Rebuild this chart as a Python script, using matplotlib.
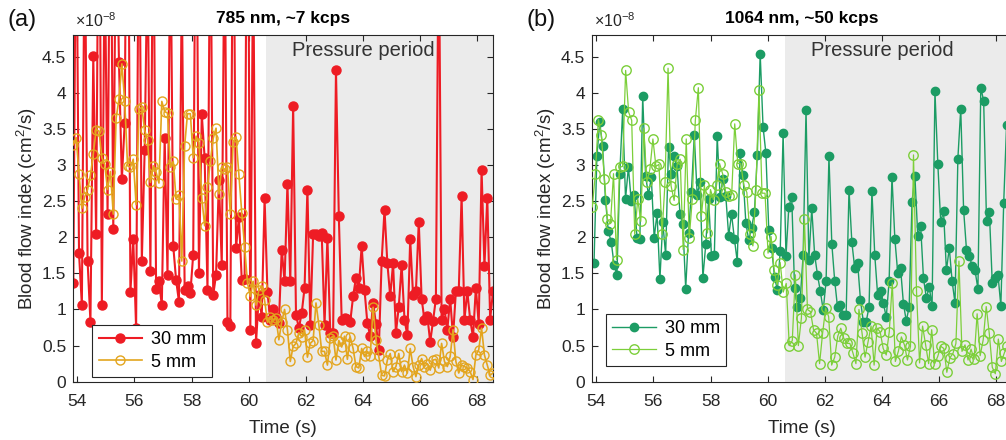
import numpy as np
import matplotlib
matplotlib.use("Agg")
import matplotlib.pyplot as plt
from matplotlib.ticker import FuncFormatter

plt.rcParams['font.family'] = ['Liberation Sans', 'DejaVu Sans']
plt.rcParams['mathtext.fontset'] = 'custom'
plt.rcParams['mathtext.rm'] = 'Liberation Sans'
plt.rcParams['mathtext.it'] = 'Liberation Sans:italic'

# blood flow index, in units of 1e-8 cm^2/s (values above 4.8 run off the axes)
# (a) 785 nm, 30 mm
a30_t = (53.86, 68.56)
a30 = [1.37, 7.0, 1.78, 1.06, 6.5, 1.67, 0.83, 4.51, 2.04, 8.0,
       1.06, 6.0, 2.32, 7.5, 2.11, 6.8, 4.42, 2.80, 3.58, 9.0,
       1.24, 1.97, 0.74, 7.2, 1.67, 3.21, 6.0, 1.53, 7.0, 1.28,
       1.39, 1.06, 3.38, 1.48, 6.5, 1.88, 1.41, 1.11, 5.5, 1.27,
       1.32, 1.23, 1.76, 8.0, 1.50, 3.70, 3.10, 1.27, 7.0, 1.20,
       1.48, 2.79, 1.62, 6.5, 0.82, 0.77, 7.5, 1.85, 2.28, 1.41,
       1.42, 8.5, 0.72, 6.0, 0.54, 1.20, 0.90, 2.54,
       1.24, 0.86, 1.00, 0.90, 0.81, 1.83, 1.39, 2.74, 1.39, 3.82,
       0.93, 0.74, 0.95, 1.30, 2.66, 0.79, 2.04, 2.04, 2.02, 2.06,
       0.79, 1.99, 0.68, 0.67, 4.31, 2.29, 0.86, 0.88, 0.87, 0.83,
       1.18, 1.44, 1.30, 1.88, 1.27, 0.81, 0.63, 1.09, 0.80, 0.44,
       1.67, 2.38, 1.64, 1.18, 1.64, 0.68, 1.04, 1.62, 0.86, 0.64,
       1.97, 1.20, 1.25, 2.21, 1.15, 0.85, 0.91, 0.55, 0.84, 1.15,
       6.5, 0.86, 1.00, 0.72, 1.15, 0.62, 1.25, 1.25, 2.57, 0.86,
       1.25, 0.86, 0.62, 1.30, 0.80, 2.93, 1.60, 2.55, 0.86, 1.25]

# (a) 785 nm, 5 mm
a5_t = (53.86, 68.56)
a5 = [3.28, 3.38, 2.88, 2.40, 2.56, 2.66, 2.86, 3.15, 3.49, 3.47,
      3.10, 3.01, 2.66, 2.91, 2.32, 3.65, 3.91, 4.40, 3.89, 2.99,
      2.97, 3.08, 2.45, 3.77, 3.80, 3.48, 3.35, 2.76, 2.99, 2.90,
      2.75, 3.88, 3.74, 3.72, 2.97, 3.05, 2.53, 2.59,
      1.67, 3.27, 3.71, 3.71, 3.10, 3.40, 3.31, 2.54, 2.16, 2.70,
      3.05, 3.37, 3.51, 2.60, 2.97, 2.94, 2.97, 2.32, 3.32, 3.39,
      2.87, 2.34, 1.87, 1.37, 1.18, 1.39, 1.06, 1.27, 1.33, 1.13,
      0.82, 0.90, 0.86, 0.88, 0.58, 0.83, 1.00, 0.72, 0.28, 0.49,
      0.53, 0.68, 0.62, 0.72, 0.34, 0.53, 0.57, 1.09, 0.79, 0.42,
      0.42, 0.23, 0.60, 0.63, 0.30, 0.57, 0.48, 0.63, 0.31, 0.62,
      0.46, 0.21, 0.19, 0.46, 0.35, 0.42, 0.36, 1.03, 0.58, 0.35,
      0.09, 0.08, 0.30, 0.39, 0.14, 0.21, 0.39, 0.14, 0.23, 0.12,
      0.46, 0.21, 0.07, 0.23, 0.32, 0.21, 0.25, 0.16, 0.30, 0.31,
      0.19, 0.53, 0.28, 0.21, 0.35, 0.72, 0.28, 0.12, 0.23, 0.21,
      0.19, 0.14, 0.03, 0.37, 0.44, 0.74, 0.37, 0.23, 0.09, 0.12]

# (b) 1064 nm, 30 mm
b30_t = (53.92, 68.37)
b30 = [1.64, 3.12, 3.59, 3.26, 2.52, 2.08, 1.94, 1.62, 1.48, 2.88,
       3.77, 2.53, 2.97, 2.50, 2.59, 1.99, 1.98, 3.95, 2.85, 2.59,
       2.83, 1.99, 2.33, 1.42, 2.21, 1.75, 3.25, 2.87, 3.12, 2.98,
       2.32, 2.19, 1.29, 2.06, 2.63, 3.41, 2.59, 2.76, 1.44, 1.90,
       2.53, 1.74, 1.76, 3.40, 2.56, 2.81, 2.57, 2.02, 2.32, 1.98,
       1.66, 3.16, 2.86, 2.20, 1.96, 2.13, 2.35, 3.14, 4.54, 3.53,
       3.16, 2.10, 1.85, 1.45, 1.27, 1.81, 3.45, 1.74, 2.42, 2.56,
       1.30, 1.03, 1.16, 1.75, 3.76, 1.69, 2.40, 1.76, 1.48, 1.25,
       0.99, 1.39, 3.12, 1.91, 1.40, 1.03, 1.06, 0.93, 0.93, 2.66,
       1.93, 1.57, 1.65, 1.13, 0.83, 0.83, 1.04, 2.64, 1.75, 1.20,
       1.25, 1.09, 0.89, 1.39, 2.84, 1.98, 1.51, 1.57, 1.08, 0.84,
       1.04, 2.49, 2.85, 2.02, 2.16, 1.43, 1.16, 1.31, 1.05, 4.02,
       3.02, 2.21, 2.36, 1.54, 1.85, 1.39, 1.09, 3.09, 3.78, 2.38,
       1.83, 1.74, 1.60, 1.54, 1.28, 4.07, 3.89, 2.22, 2.35, 1.37,
       1.43, 1.48, 1.05, 2.48, 3.55]

# (b) 1064 nm, 5 mm
b5_t = (53.86, 68.40)
b5 = [2.42, 2.88, 3.63, 3.41, 2.80, 2.25, 2.19, 2.88, 1.69, 2.97,
      2.98, 4.31, 3.73, 3.62, 2.04, 2.53, 2.22, 3.51, 2.76, 2.94,
      3.36, 2.98, 3.01, 2.04, 2.76, 4.34, 2.71, 2.51, 3.01, 3.08,
      1.83, 3.36, 1.99, 2.53, 3.62, 4.07, 2.30, 2.72, 2.06, 2.66,
      2.52, 2.72, 3.02, 2.88, 2.63, 2.57, 2.59, 3.57, 3.02, 3.02,
      2.72, 2.62, 2.05, 1.88, 2.66, 4.04, 2.61, 2.61, 1.78, 2.01,
      1.55, 1.34, 1.65, 1.24, 1.36, 0.50, 0.57, 1.48, 0.50, 0.88,
      2.25, 1.00, 0.97, 0.72, 0.67, 0.25, 0.67, 1.02, 0.90, 0.23,
      0.34, 0.63, 0.74, 0.60, 0.53, 0.53, 0.40, 0.25, 1.00, 0.68,
      0.34, 0.55, 0.77, 0.23, 0.74, 0.69, 0.46, 0.37, 0.69, 1.37,
      0.28, 0.42, 0.62, 0.51, 0.30, 0.49, 3.14, 1.25, 0.26, 0.77,
      0.51, 0.25, 0.72, 0.25, 0.35, 0.49, 0.46, 0.13, 0.33, 0.39,
      0.53, 1.67, 0.42, 0.51, 0.30, 0.45, 0.31, 0.94, 0.36, 0.58,
      1.04, 0.67, 0.20, 0.11, 0.59, 0.28, 0.40, 0.50]

pressure_start = 60.62
xlim = (53.86, 68.56)
ylim = (0, 4.8)
xticks = [54, 56, 58, 60, 62, 64, 66, 68]
yticks = [0, 0.5, 1, 1.5, 2, 2.5, 3, 3.5, 4, 4.5]

panels = [
    dict(tag='(a)', title='785 nm, ~7 kcps', left=73.3,
         deep=(a30, a30_t), shallow=(a5, a5_t),
         c_deep='#ee1c24', c_shallow='#e3a51e',
         lw_deep=1.5, lw_shallow=1.2, ms_deep=6.5, ms_shallow=6.5,
         leg_anchor=(0.045, 0.014)),
    dict(tag='(b)', title='1064 nm, ~50 kcps', left=592.3,
         deep=(b30, b30_t), shallow=(b5, b5_t),
         c_deep='#1c9c64', c_shallow='#7ccf3a',
         lw_deep=1.0, lw_shallow=0.9, ms_deep=6.0, ms_shallow=6.8,
         leg_anchor=(0.033, 0.045)),
]

W, H = 1006, 440
fig = plt.figure(figsize=(W / 100, H / 100), dpi=100)
ink = '#262626'

for p in panels:
    ax = fig.add_axes([p['left'] / W, (H - 381.7) / H, 419.7 / W, 346.7 / H])
    ax.axvspan(pressure_start, xlim[1], color='#ebebeb', lw=0, zorder=0)

    v, (t0, t1) = p['deep']
    t = np.linspace(t0, t1, len(v))
    ax.plot(t, v, '-o', color=p['c_deep'], lw=p['lw_deep'], ms=p['ms_deep'],
            mfc=p['c_deep'], mec=p['c_deep'], label='30 mm', zorder=2)
    v, (t0, t1) = p['shallow']
    t = np.linspace(t0, t1, len(v))
    ax.plot(t, v, '-o', color=p['c_shallow'], lw=p['lw_shallow'], ms=p['ms_shallow'],
            mfc='none', mec=p['c_shallow'], mew=1.0, label='5 mm', zorder=3)

    ax.set_xlim(*xlim)
    ax.set_ylim(*ylim)
    ax.set_xticks(xticks)
    ax.set_yticks(yticks)
    ax.yaxis.set_major_formatter(FuncFormatter(lambda y, _: '%g' % y))
    ax.tick_params(direction='in', top=True, right=True, length=4,
                   width=0.8, labelsize=12.5, colors=ink)
    ax.tick_params(axis='x', pad=9)
    ax.tick_params(axis='y', pad=5)
    for s in ax.spines.values():
        s.set_color(ink)
        s.set_linewidth(0.8)

    ax.text(64.03, 4.58, 'Pressure period', ha='center', va='center',
            fontsize=14.5, color='#333333', zorder=4)
    ax.set_xlabel('Time (s)', fontsize=13.5, color=ink, labelpad=8)
    ax.set_ylabel('Blood flow index (cm$^2$/s)', fontsize=13.5, color=ink, labelpad=2)
    ax.set_title(p['title'], fontsize=12.5, fontweight='bold', pad=9)

    leg = ax.legend(loc='lower left', bbox_to_anchor=p['leg_anchor'],
                    borderaxespad=0, fancybox=False, framealpha=1,
                    edgecolor=ink, fontsize=13, handlelength=2.4,
                    labelspacing=0.3, borderpad=0.35, handletextpad=0.5)
    leg.get_frame().set_linewidth(0.8)

    fig.text((p['left'] - 51) / W, 1 - 20 / H, p['tag'], ha='center',
             va='center', fontsize=17, color='#111111')
    fig.text((p['left'] + 1.5) / W, 1 - 27 / H, r'$\times10^{-8}$',
             ha='left', va='baseline', fontsize=11.5, color=ink)

fig.savefig('out.png', dpi=100)
